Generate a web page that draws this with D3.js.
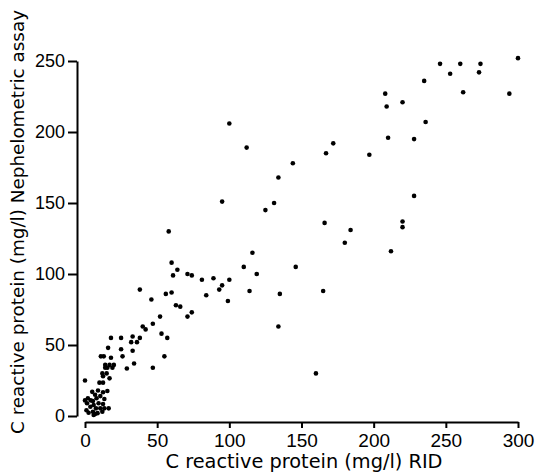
<!DOCTYPE html>
<html>
<head>
<meta charset="utf-8">
<script src="https://cdn.jsdelivr.net/npm/d3@7"></script>
<style>
  body { margin: 0; background: #fff; }
  text { font-family: "DejaVu Sans", sans-serif; fill: #000; }
</style>
</head>
<body>
<div id="chart"></div>
<script>
var width = 537,
    height = 473;

// RID values (mg/l)
var ridValues = [
  300, 246, 260, 274, 253, 273, 235, 262, 294, 208, 209, 220, 236, 210, 228, 172, 167, 197, 144, 228,
  166, 220, 220, 184, 180, 212, 146,
  100, 112, 134, 95, 131, 125, 58,
  116, 60, 64, 110, 119, 71, 74, 61, 81, 89, 100, 95, 93, 114, 99, 84, 38, 56, 60, 135, 165, 46,
  63, 66, 71, 74, 52, 40, 42, 47, 134, 53, 57, 55, 160, 47,
  18, 25, 33, 38, 32, 36, 16, 25, 33, 26, 18, 11, 13, 34, 29, 14, 17, 20, 19, 14, 15.5,
  12, 15, 12.5, 17, 0, 10, 12.5, 5, 9, 12.5, 15.5, 7, 2, 0, 4, 5.5, 8, 10.6, 13.4,
  1.4, 6, 9.4, 12.5, 16.4, 3.7, 7.6, 10.6, 1, 2.5, 5.5, 7, 8.7, 6, 12, 13.4
];

// Nephelometric assay values (mg/l)
var nephValues = [
  252, 248, 248, 248, 241, 242, 236, 228, 227, 227, 218, 221, 207, 196, 195, 192, 185, 184, 178, 155,
  136, 137, 133, 131, 122, 116, 105,
  206, 189, 168, 151, 150, 145, 130,
  115, 108, 103, 105, 100, 100, 99, 99, 96, 97, 96, 92, 89, 88, 81, 85, 89, 86, 87, 86, 88, 82,
  78, 77, 70, 73, 70, 63, 61, 65, 63, 58, 55, 42, 30, 34,
  55, 55, 56, 55, 52, 52, 48, 47, 46, 42, 41, 42, 42, 37, 33.5, 36, 36, 36, 34, 34, 34,
  30, 30, 28, 26.5, 25, 23.5, 23.5, 17, 18, 16.7, 17.6, 15, 12.5, 11, 11, 10.6, 12.5, 14, 12,
  9, 7.7, 9, 8.5, 5.4, 6.5, 5.4, 5.4, 4, 2.3, 3, 1.4, 2, 0.7, 3, 5.4
];

var xTicks = [0, 50, 100, 150, 200, 250, 300];
var yTicks = [0, 50, 100, 150, 200, 250];

var xLabel = "C reactive protein (mg/l) RID";
var yLabel = "C reactive protein (mg/l) Nephelometric assay";

var points = ridValues.map(function(d, i) { return {rid: d, neph: nephValues[i]}; });

var svg = d3.select("#chart").append("svg")
  .attr("width", width)
  .attr("height", height);

var x = d3.scaleLinear().domain([0, 300]).range([85, 518]);
var y = d3.scaleLinear().domain([0, 250]).range([416, 61]);

// x axis
var gx = svg.append("g")
  .attr("transform", "translate(0,422)")
  .call(d3.axisBottom(x).tickValues(xTicks).tickSize(6).tickSizeOuter(0).tickPadding(6));

// y axis
var gy = svg.append("g")
  .attr("transform", "translate(77,0)")
  .call(d3.axisLeft(y).tickValues(yTicks).tickSize(9).tickSizeOuter(0).tickPadding(3));

[gx, gy].forEach(function(g) {
  g.select(".domain").attr("stroke", "#000").attr("stroke-width", 2);
  g.selectAll(".tick line").attr("stroke", "#000").attr("stroke-width", 2);
  g.selectAll(".tick text")
    .style("font-family", "'Liberation Sans', Arial, sans-serif")
    .attr("fill", "#000");
});
gx.selectAll(".tick text").style("font-size", "19px");
gy.selectAll(".tick text").style("font-size", "18px");

// axis titles
svg.append("text")
  .attr("x", 304)
  .attr("y", 468)
  .attr("text-anchor", "middle")
  .attr("textLength", 277)
  .attr("lengthAdjust", "spacingAndGlyphs")
  .style("font-size", "19px")
  .text(xLabel);

svg.append("text")
  .attr("transform", "translate(24,222) rotate(-90)")
  .attr("text-anchor", "middle")
  .attr("textLength", 424)
  .attr("lengthAdjust", "spacingAndGlyphs")
  .style("font-size", "18px")
  .text(yLabel);

// dots
svg.selectAll(".dot")
  .data(points)
  .enter().append("circle")
  .attr("class", "dot")
  .attr("cx", function(d) { return x(d.rid); })
  .attr("cy", function(d) { return y(d.neph); })
  .attr("r", 2.3)
  .attr("fill", "#000");
</script>
</body>
</html>
